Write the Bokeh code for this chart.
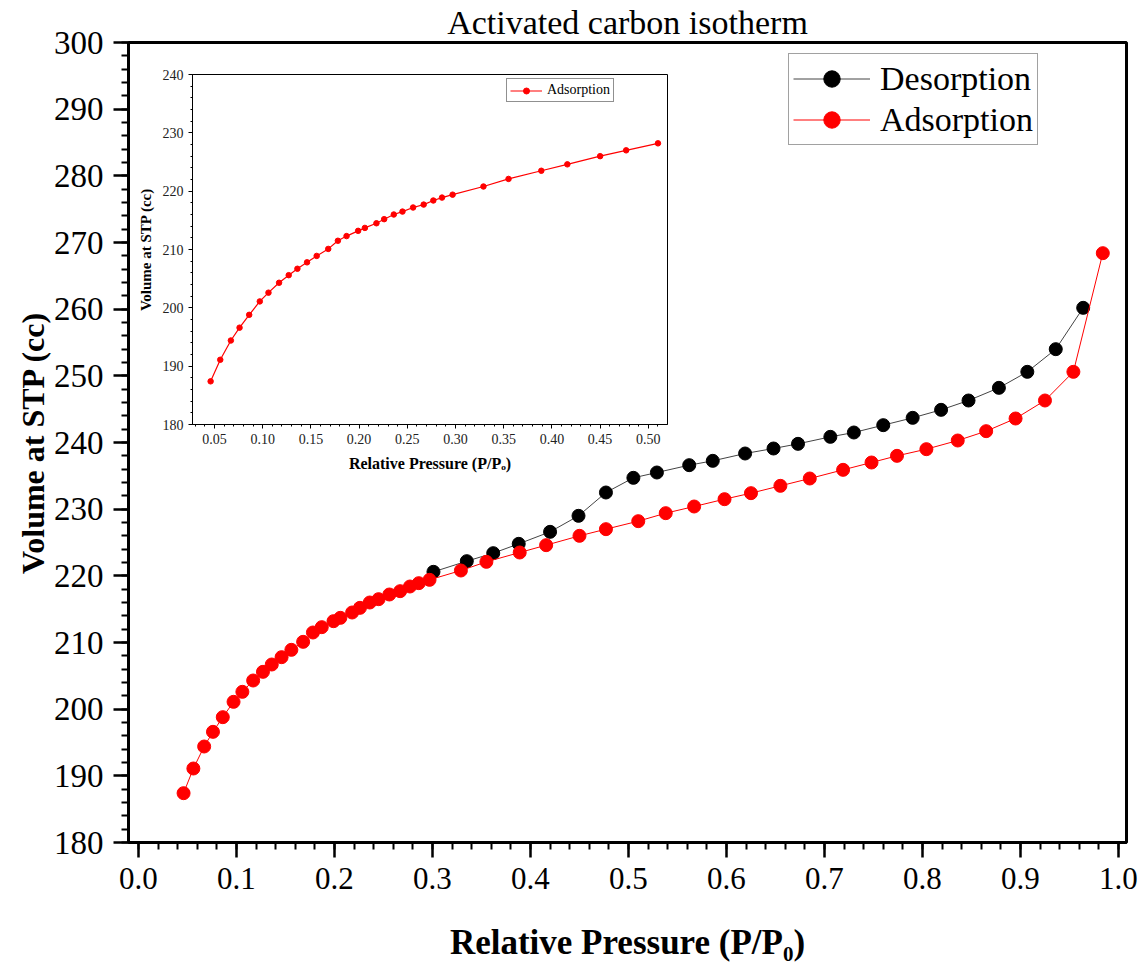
from bokeh.plotting import figure
from bokeh.models import Range1d, SingleIntervalTicker, PrintfTickFormatter, Legend, LegendItem
from bokeh.layouts import column
from bokeh.embed import file_html
from bokeh.resources import INLINE

# ---------------- data ----------------
ads_p = [0.046, 0.056, 0.067, 0.076, 0.086, 0.097, 0.106, 0.117, 0.127, 0.136,
         0.146, 0.156, 0.168, 0.178, 0.187, 0.199, 0.206, 0.218, 0.226, 0.236,
         0.245, 0.256, 0.267, 0.277, 0.286, 0.297, 0.329, 0.355, 0.389, 0.416,
         0.450, 0.477, 0.510, 0.538, 0.567, 0.598, 0.625, 0.655, 0.685, 0.719,
         0.748, 0.774, 0.804, 0.836, 0.865, 0.895, 0.925, 0.954, 0.984]
ads_v = [187.4, 191.1, 194.4, 196.6, 198.8, 201.1, 202.6, 204.3, 205.6, 206.7,
         207.8, 208.9, 210.1, 211.5, 212.3, 213.2, 213.7, 214.5, 215.2, 216.0,
         216.5, 217.2, 217.7, 218.4, 218.9, 219.4, 220.8, 222.1, 223.5, 224.6,
         226.0, 227.0, 228.2, 229.4, 230.4, 231.5, 232.4, 233.5, 234.6, 235.9,
         237.0, 238.0, 239.0, 240.3, 241.7, 243.6, 246.3, 250.6, 268.4]
des_p = [0.301, 0.335, 0.362, 0.388, 0.420, 0.449, 0.477, 0.505, 0.529, 0.562,
         0.586, 0.619, 0.648, 0.673, 0.706, 0.730, 0.760, 0.790, 0.819, 0.847,
         0.878, 0.907, 0.936, 0.964]
des_v = [220.6, 222.2, 223.4, 224.8, 226.6, 229.0, 232.5, 234.7, 235.5, 236.6,
         237.25, 238.35, 239.1, 239.8, 240.85, 241.5, 242.6, 243.7, 244.9, 246.3,
         248.2, 250.6, 254.0, 260.2]
inset_max_p = 0.515

title_text = "Activated carbon isotherm"
x_label = "Relative Pressure (P/P\u2080)"
y_label = "Volume at STP (cc)"
inset_x_label = "Relative Pressure (P/P\u2092)"

SERIF = "Liberation Serif"

# ---------------- main figure ----------------
BL, BR = 128, 18
p = figure(width=1144, height=966, output_backend="svg", toolbar_location=None,
           x_range=Range1d(-0.0102, 1.0082), y_range=Range1d(180, 300),
           min_border_left=BL, min_border_right=BR, min_border_top=40,
           min_border_bottom=124)
p.title.text = title_text
p.title.align = "center"
p.title.text_font = SERIF
p.title.text_font_size = "34px"
p.title.text_font_style = "normal"
p.title.text_color = "black"
p.title.standoff = 3

p.xgrid.visible = False
p.ygrid.visible = False
p.outline_line_color = "black"
p.outline_line_width = 3
p.outline_line_alpha = 1

p.xaxis.ticker = SingleIntervalTicker(interval=0.1, num_minor_ticks=5)
p.xaxis.formatter = PrintfTickFormatter(format="%.1f")
p.yaxis.ticker = SingleIntervalTicker(interval=10, num_minor_ticks=5)
for ax in (p.xaxis[0], p.yaxis[0]):
    ax.axis_line_width = 3
    ax.axis_line_color = "black"
    ax.major_tick_in = 0
    ax.major_tick_out = 15
    ax.minor_tick_in = 0
    ax.minor_tick_out = 7
    ax.major_tick_line_width = 2.5
    ax.minor_tick_line_width = 2
    ax.major_tick_line_color = "black"
    ax.minor_tick_line_color = "black"
    ax.major_label_text_font = SERIF
    ax.major_label_text_color = "black"
    ax.major_label_standoff = 10
    ax.axis_label_text_font = SERIF
    ax.axis_label_text_font_style = "bold"
    ax.axis_label_text_color = "black"
p.xaxis.major_label_text_font_size = "31px"
p.yaxis.major_label_text_font_size = "33px"
p.xaxis.axis_label_text_font_size = "35px"
p.yaxis.axis_label_text_font_size = "32px"
p.xaxis.axis_label = x_label
p.yaxis.axis_label = y_label
p.xaxis.axis_label_standoff = 31
p.yaxis.axis_label_standoff = 0

des_line = p.line(des_p, des_v, line_color="#444444", line_width=1)
des_pts = p.scatter(des_p, des_v, size=13, fill_color="black", line_color="black")
ads_line = p.line(ads_p, ads_v, line_color="red", line_width=1)
ads_pts = p.scatter(ads_p, ads_v, size=13, fill_color="red", line_color="red")

leg = Legend(items=[LegendItem(label="Desorption", renderers=[des_line, des_pts]),
                    LegendItem(label="Adsorption", renderers=[ads_line, ads_pts])],
             location=(660, 697))
leg.label_text_font = SERIF
leg.label_text_font_size = "34px"
leg.label_text_color = "black"
leg.label_height = 41
leg.glyph_height = 41
leg.glyph_width = 77
leg.label_standoff = 10
leg.spacing = 0
leg.padding = 4
leg.margin = 0
leg.border_line_color = "#444444"
leg.border_line_width = 1
leg.background_fill_color = "white"
p.add_layout(leg, "center")

# ---------------- inset figure ----------------
in_p = [x for x in ads_p if x <= inset_max_p]
in_v = [v for x, v in zip(ads_p, ads_v) if x <= inset_max_p]

# horizontal borders are shared with the main plot inside the column layout
IN_FRAME_W = 475
q = figure(width=BL + IN_FRAME_W + BR, height=420, output_backend="svg",
           toolbar_location=None,
           x_range=Range1d(0.0272, 0.5199), y_range=Range1d(180, 240),
           min_border_left=BL, min_border_right=BR, min_border_top=14,
           min_border_bottom=56)
q.background_fill_color = None
q.border_fill_color = None
q.xgrid.visible = False
q.ygrid.visible = False
q.outline_line_color = "black"
q.outline_line_width = 1
q.outline_line_alpha = 1
q.xaxis.ticker = SingleIntervalTicker(interval=0.05, num_minor_ticks=5)
q.xaxis.formatter = PrintfTickFormatter(format="%.2f")
q.yaxis.ticker = SingleIntervalTicker(interval=10, num_minor_ticks=5)
for ax in (q.xaxis[0], q.yaxis[0]):
    ax.axis_line_width = 1
    ax.axis_line_color = "black"
    ax.major_tick_in = 0
    ax.major_tick_out = 4
    ax.minor_tick_in = 0
    ax.minor_tick_out = 2
    ax.major_tick_line_color = "black"
    ax.minor_tick_line_color = "black"
    ax.major_label_text_font = SERIF
    ax.major_label_text_font_size = "14px"
    ax.major_label_text_color = "#222222"
    ax.major_label_standoff = 5
    ax.axis_label_text_font = SERIF
    ax.axis_label_text_font_style = "bold"
    ax.axis_label_text_color = "black"
q.xaxis.axis_label_text_font_size = "16px"
q.yaxis.axis_label_text_font_size = "15px"
q.xaxis.axis_label = inset_x_label
q.yaxis.axis_label = y_label
q.xaxis.axis_label_standoff = 8
q.yaxis.axis_label_standoff = 6

i_line = q.line(in_p, in_v, line_color="red", line_width=1.2)
i_pts = q.scatter(in_p, in_v, size=5.5, fill_color="red", line_color="red")
leg2 = Legend(items=[LegendItem(label="Adsorption", renderers=[i_line, i_pts])],
              location=(314, 322))
leg2.label_text_font = SERIF
leg2.label_text_font_size = "14px"
leg2.label_text_color = "black"
leg2.label_height = 15
leg2.glyph_height = 15
leg2.glyph_width = 32
leg2.label_standoff = 5
leg2.spacing = 0
leg2.padding = 3
leg2.margin = 0
leg2.border_line_color = "#222222"
leg2.border_line_width = 1
leg2.background_fill_color = "white"
q.add_layout(leg2, "center")

q.styles = {"position": "absolute", "left": f"{192 - BL}px", "top": "60px",
            "z-index": "10"}

layout = column(p, q)
open("out.html", "w").write(file_html(layout, INLINE))
